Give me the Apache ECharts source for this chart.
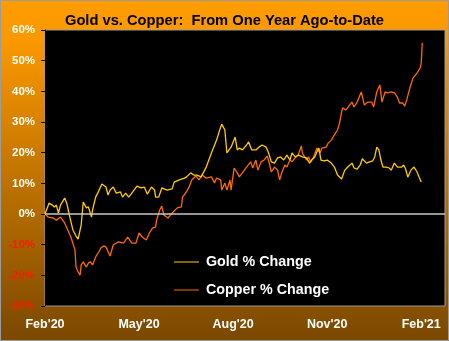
<!DOCTYPE html>
<html>
<head>
<meta charset="utf-8">
<script src="https://cdn.jsdelivr.net/npm/echarts@6/dist/echarts.min.js"></script>
<style>
html,body{margin:0;padding:0;background:#7a4800;}
#chart{width:449px;height:341px;}
</style>
</head>
<body>
<div id="chart"></div>
<script>
// x values are approximate calendar days since the start (Feb'20)
const xTickDays = [0, 91, 182, 273, 364];
const xTickLabels = ["Feb'20", "May'20", "Aug'20", "Nov'20", "Feb'21"];
const yTicks = [-30, -20, -10, 0, 10, 20, 30, 40, 50, 60];

const goldDay = [0,4,7,9,11,13,15,19,21,24,27,30,32,35,37,40,42,45,46,49,51,55,59,61,63,66,69,73,75,78,81,84,89,93,96,99,103,106,107,110,113,118,123,125,130,135,137,141,144,147,151,156,161,166,169,171,174,176,180,184,186,188,191,195,197,200,204,207,210,214,216,219,222,225,228,231,234,237,239,242,245,249,253,256,258,261,263,265,267,270,273,277,280,283,287,290,293,297,299,302,305,307,311,314,317,319,321,323,325,327,330,333,335,338,341,345,347,349,351,354,357,360,362,364];
const goldPct = [0,3.6,2.9,2.3,2.9,0.3,2.9,5.2,3.6,-1.0,-5.2,-7.2,-8.2,-3.6,3.9,2.0,2.3,-1.0,1.3,5.5,6.8,9.8,8.8,6.2,7.8,8.8,6.8,7.2,5.5,6.8,5.5,6.8,9.1,8.5,8.8,6.5,8.8,7.8,5.5,5.5,8.5,7.8,8.2,10.4,11.1,11.7,12.1,13.4,12.7,12.7,12.1,15.3,19.9,24.1,27.4,29.3,27.4,19.9,21.8,25.1,20.9,21.5,20.9,22.5,23.5,20.9,20.9,21.8,22.5,21.8,20.2,17.0,16.6,18.3,18.6,17.6,19.2,17.6,19.9,18.6,19.2,18.6,18.3,16.6,17.6,18.6,20.2,21.5,17.6,17.3,17.6,16.6,15.3,12.7,11.4,14.3,15.3,16.6,15.0,14.6,16.0,18.0,16.6,17.0,17.3,18.6,21.8,20.9,17.6,15.3,15.3,15.0,14.3,16.6,15.3,15.3,16.0,14.6,12.0,14.3,15.3,13.7,12.0,10.4];

const copperDay = [0,3,8,11,15,19,22,25,29,30,32,34,35,37,40,42,44,46,49,52,54,57,59,63,66,71,76,80,84,88,91,94,98,101,104,107,108,111,113,115,119,123,128,132,133,136,139,142,146,149,152,156,161,164,166,170,171,174,176,179,180,183,186,188,191,195,199,201,204,206,209,212,215,217,219,222,225,227,229,232,234,237,239,242,245,248,249,253,255,257,260,263,266,268,272,274,277,280,283,285,287,288,291,294,297,299,302,306,309,312,316,318,321,324,326,329,331,335,338,341,343,346,348,350,353,356,360,363,364,365];
const copperPct = [0,-1.0,-1.3,-2.0,-1.0,-2.9,-5.2,-7.5,-11.7,-17.3,-18.9,-19.9,-16.6,-15.6,-17.3,-16.0,-15.6,-16.6,-14.0,-12.4,-11.1,-10.4,-10.8,-13.7,-10.1,-9.1,-9.5,-7.5,-9.5,-9.5,-6.2,-7.5,-8.5,-6.2,-4.6,-4.2,-2.0,1.3,2.6,-0.3,-1.3,0.3,2.0,2.3,5.5,6.8,8.5,11.1,12.4,11.1,12.7,11.7,12.1,10.1,11.7,11.1,7.8,10.1,7.8,11.1,7.8,15.0,13.4,12.1,13.4,15.3,17.0,15.0,17.6,14.3,17.0,17.6,18.9,16.6,13.7,15.3,14.3,11.1,13.4,16.0,15.3,17.6,17.0,18.3,19.2,22.2,19.9,17.6,18.6,17.0,18.6,21.5,19.9,21.5,21.8,23.1,24.1,25.8,27.4,29.7,33.3,34.6,33.9,35.2,36.5,34.9,36.5,39.8,35.5,36.5,36.5,34.9,39.8,42.1,36.5,39.8,39.5,39.8,39.5,38.1,36.2,36.2,35.2,37.2,41.1,44.3,46.0,47.6,49.2,55.8];

const goldData = goldDay.map((d, i) => [d, goldPct[i]]);
const copperData = copperDay.map((d, i) => [d, copperPct[i]]);
const tickMap = {};
xTickDays.forEach((d, i) => { tickMap[d] = xTickLabels[i]; });

const chart = echarts.init(document.getElementById('chart'), null, {renderer: 'canvas'});
const FONT = '"Liberation Sans", Arial, sans-serif';
chart.setOption({
  animation: false,
  backgroundColor: {
    type: 'linear', x: 0, y: 0, x2: 0, y2: 1,
    colorStops: [
      {offset: 0, color: '#ff9c00'},
      {offset: 0.12, color: '#fb9800'},
      {offset: 1, color: '#7a4800'}
    ]
  },
  title: {
    text: 'Gold vs. Copper:  From One Year Ago-to-Date',
    left: 'center', top: 8,
    textStyle: {fontFamily: FONT, fontWeight: 'bold', fontSize: 14.7, color: '#000'}
  },
  graphic: [{
    type: 'rect', silent: true, z: 100,
    shape: {x: 0.5, y: 0.5, width: 448, height: 340},
    style: {fill: 'none', stroke: '#9c9c9c', lineWidth: 1}
  }],
  legend: {
    orient: 'vertical', left: 169, top: 250, itemGap: 14,
    itemWidth: 25, itemHeight: 14,
    icon: 'path://M0,7 L25,7 L25,8 L0,8 Z',
    textStyle: {fontFamily: FONT, fontWeight: 'bold', fontSize: 14.3, color: '#fff', padding: [0, 0, 0, 2]},
    data: ['Gold % Change', 'Copper % Change']
  },
  grid: {
    left: 45, right: 4, top: 30, bottom: 35,
    show: true, backgroundColor: '#000', borderColor: '#9a9a9a', borderWidth: 1
  },
  xAxis: {
    type: 'value', min: 0, max: 387, interval: 91,
    axisLine: {show: false}, axisTick: {show: false}, splitLine: {show: false},
    axisLabel: {
      margin: 12, fontFamily: FONT, fontWeight: 'bold', fontSize: 12.5, color: '#fff',
      showMaxLabel: false,
      formatter: v => tickMap[v] !== undefined ? tickMap[v] : ''
    }
  },
  yAxis: {
    type: 'value', min: yTicks[0], max: yTicks[yTicks.length - 1], interval: 10,
    axisLine: {show: true, lineStyle: {color: '#000'}},
    axisTick: {show: true, length: 4, lineStyle: {color: '#000'}},
    splitLine: {show: false},
    axisLabel: {
      margin: 10, fontFamily: FONT, fontWeight: 'bold', fontSize: 11.5,
      formatter: v => v + '%',
      color: v => (Number(v) < 0 ? '#ff1a00' : '#fff')
    }
  },
  series: [
    {
      name: 'Gold % Change', type: 'line', data: goldData,
      showSymbol: false, symbol: 'none', z: 3,
      lineStyle: {color: '#ffcc00', width: 1.3}, itemStyle: {color: '#ffcc00'},
      markLine: {
        silent: true, symbol: 'none', label: {show: false},
        lineStyle: {color: '#c8c8c8', width: 1.5, type: 'solid'},
        data: [{yAxis: 0}]
      }
    },
    {
      name: 'Copper % Change', type: 'line', data: copperData,
      showSymbol: false, symbol: 'none', z: 2,
      lineStyle: {color: '#ff6a00', width: 1.3}, itemStyle: {color: '#ff6a00'}
    }
  ]
});
</script>
</body>
</html>
